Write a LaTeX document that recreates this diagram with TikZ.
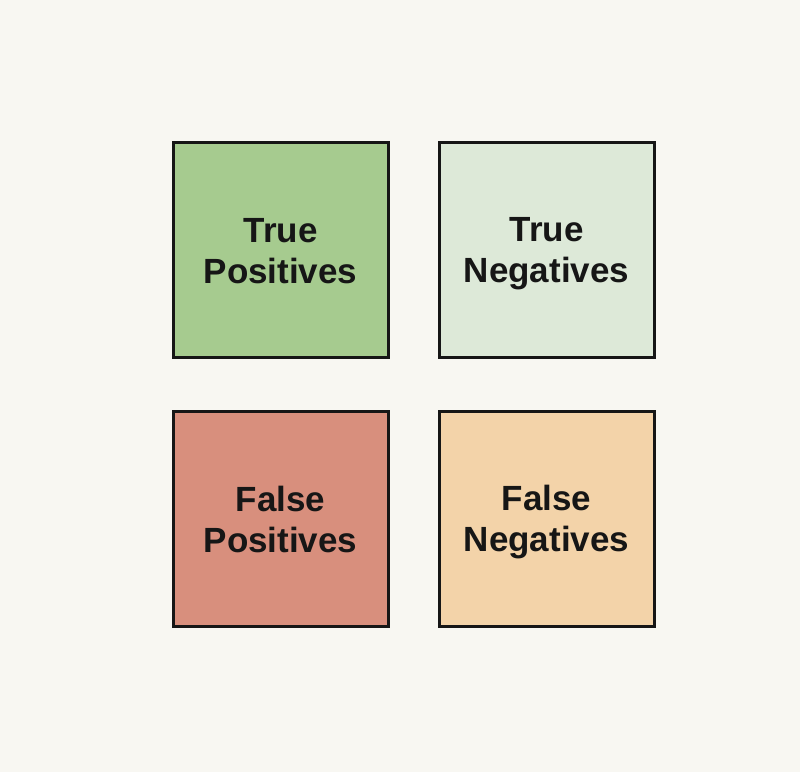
\documentclass[tikz,border=0pt]{standalone}
\usepackage{fontspec}
\setmainfont{Liberation Sans}
\usepackage{xcolor}
\usetikzlibrary{positioning}
\definecolor{bgpaper}{HTML}{F8F7F2}
\definecolor{tpgreen}{HTML}{A6CB8F}
\definecolor{tnmint}{HTML}{DDE9D8}
\definecolor{fpred}{HTML}{D88F7D}
\definecolor{fnpeach}{HTML}{F3D3A9}
\definecolor{edgeblk}{HTML}{161616}
\newcommand{\cellstrut}{\rule[-7pt]{0pt}{40pt}}

\begin{document}
\begin{tikzpicture}[x=1pt, y=-1pt,
    cell/.style={draw=edgeblk, line width=3pt, minimum size=215pt, inner sep=0pt,
                 align=center, font=\fontsize{35}{41}\selectfont\bfseries, text=edgeblk},
    node distance=48pt and 48pt]
    % fond
    \fill [bgpaper] (0,0) rectangle (800,772);
    \useasboundingbox (0,0) rectangle (800,772);

    % ligne du haut
    \node [cell, fill=tpgreen] (tp) at (280.5,249.5) {\cellstrut True\\\cellstrut Positives};
    \node [cell, fill=tnmint, right=of tp] (tn) {\cellstrut True\\\cellstrut Negatives};

    % ligne du bas
    \node [cell, fill=fpred, below=51pt of tp] (fp) {\cellstrut False\\\cellstrut Positives};
    \node [cell, fill=fnpeach, right=of fp] (fn) {\cellstrut False\\\cellstrut Negatives};
\end{tikzpicture}
\end{document}
